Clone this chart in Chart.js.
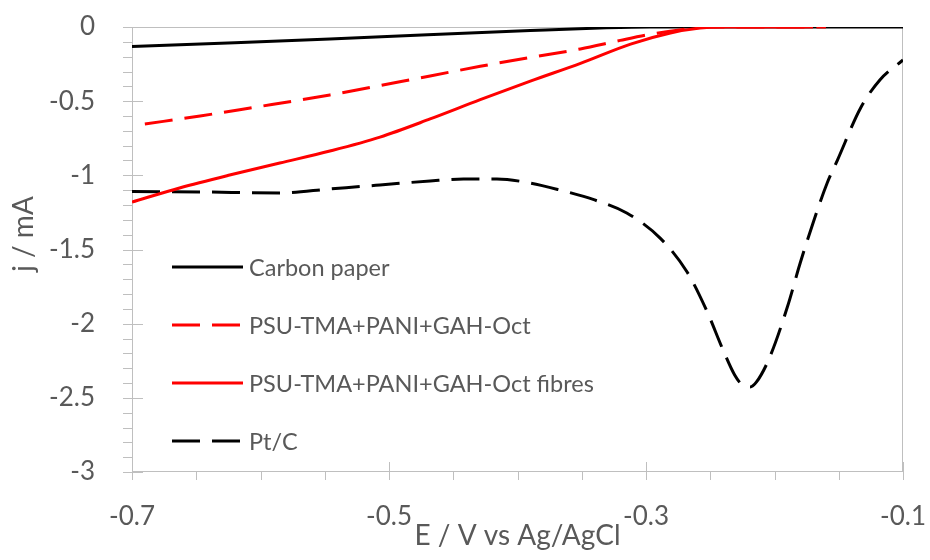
<!DOCTYPE html>
<html>
<head>
<meta charset="utf-8">
<script src="https://cdn.jsdelivr.net/npm/chart.js@4.4.0/dist/chart.umd.min.js"></script>
<style>
  html, body { margin: 0; padding: 0; background: #fff; }
  #wrap { width: 930px; height: 560px; }
</style>
</head>
<body>
<div id="wrap"><canvas id="myChart"></canvas></div>
<script>
// potential (V vs Ag/AgCl) and current density (mA) for each electrode
const carbonE = [-0.7, -0.62, -0.546, -0.47, -0.39, -0.336, -0.297, -0.1];
const carbonJ = [-0.131, -0.106, -0.081, -0.052, -0.024, -0.007, 0, 0];

const filmE = [-0.69, -0.647, -0.608, -0.546, -0.468, -0.429, -0.39, -0.351, -0.32, -0.297, -0.274, -0.25, -0.16];
const filmJ = [-0.654, -0.6, -0.546, -0.458, -0.33, -0.265, -0.205, -0.148, -0.09, -0.05, -0.02, 0, 0];

const fibreE = [-0.7, -0.663, -0.624, -0.585, -0.546, -0.507, -0.468, -0.429, -0.39, -0.351, -0.312, -0.281, -0.258, -0.242, -0.17];
const fibreJ = [-1.18, -1.085, -0.998, -0.917, -0.836, -0.742, -0.62, -0.49, -0.365, -0.245, -0.115, -0.04, -0.007, 0, 0];

const ptcE = [-0.7, -0.647, -0.585, -0.546, -0.507, -0.468, -0.442, -0.416, -0.39, -0.367, -0.34, -0.315, -0.289, -0.268, -0.253, -0.24, -0.231, -0.225, -0.219, -0.214, -0.204, -0.19, -0.18, -0.17, -0.159, -0.151, -0.133, -0.118, -0.1];
const ptcJ = [-1.109, -1.112, -1.119, -1.092, -1.065, -1.038, -1.025, -1.025, -1.052, -1.099, -1.166, -1.254, -1.423, -1.652, -1.908, -2.178, -2.346, -2.414, -2.427, -2.393, -2.232, -1.888, -1.591, -1.321, -1.052, -0.897, -0.546, -0.357, -0.222];

const xTicks = [-0.7, -0.5, -0.3, -0.1];
const yTicks = [0, -0.5, -1, -1.5, -2, -2.5, -3];

const seriesNames = ['Carbon paper', 'PSU-TMA+PANI+GAH-Oct', 'PSU-TMA+PANI+GAH-Oct fibres', 'Pt/C'];

const textGrey = '#595959';
const axisGrey = '#bfbfbf';
const fontFam = 'Lato, "Open Sans", sans-serif';
const dash = [28, 12];

function pts(xs, ys) {
  return xs.map((e, i) => ({ x: e, y: ys[i] }));
}

function series(label, xs, ys, color, dashed, order) {
  return {
    label: label,
    data: pts(xs, ys),
    showLine: true,
    borderColor: color,
    backgroundColor: color,
    borderWidth: 3,
    borderDash: dashed ? dash : [],
    pointRadius: 0,
    cubicInterpolationMode: 'monotone',
    order: order
  };
}

// frame, tick marks, axis titles and the in-plot legend
const decor = {
  id: 'decor',
  beforeDatasetsDraw(chart) {
    const { ctx, chartArea: a, scales: { x, y } } = chart;
    ctx.save();
    ctx.strokeStyle = axisGrey;
    ctx.lineWidth = 1;
    ctx.strokeRect(Math.round(a.left) + 0.5, Math.round(a.top) + 0.5,
      Math.round(a.width) - 1, Math.round(a.height) - 1);

    ctx.beginPath();
    for (let i = 0; i <= 12; i++) {
      const px = Math.round(x.getPixelForValue(-0.7 + i * 0.05)) + 0.5;
      const major = i % 4 === 0;
      ctx.moveTo(px, a.bottom + (major ? -10 : 0));
      ctx.lineTo(px, a.bottom + 8);
    }
    for (let i = 0; i <= 30; i++) {
      const py = Math.round(y.getPixelForValue(-i * 0.1)) + 0.5;
      const major = i % 5 === 0;
      ctx.moveTo(a.left - 9, py);
      ctx.lineTo(a.left + (major ? 11 : 0), py);
    }
    ctx.stroke();

    // axis titles
    ctx.fillStyle = textGrey;
    ctx.font = '28px ' + fontFam;
    ctx.textAlign = 'center';
    ctx.textBaseline = 'alphabetic';
    ctx.fillText('E / V vs Ag/AgCl', (a.left + a.right) / 2, 545);
    ctx.save();
    ctx.translate(33, 234);
    ctx.rotate(-Math.PI / 2);
    ctx.fillText('j / mA', 0, 0);
    ctx.restore();
    ctx.restore();
  },
  afterDatasetsDraw(chart) {
    const { ctx, chartArea: a } = chart;
    const rows = [267, 325, 383, 441];
    ctx.save();
    ctx.font = '23.5px ' + fontFam;
    ctx.textBaseline = 'middle';
    ctx.textAlign = 'left';
    seriesNames.forEach((name, i) => {
      const ds = chart.data.datasets.find(d => d.label === name);
      ctx.strokeStyle = ds.borderColor;
      ctx.lineWidth = 3;
      ctx.setLineDash(ds.borderDash);
      ctx.beginPath();
      ctx.moveTo(a.left + 40, rows[i]);
      ctx.lineTo(a.left + 111, rows[i]);
      ctx.stroke();
      ctx.setLineDash([]);
      ctx.fillStyle = textGrey;
      ctx.fillText(name, a.left + 117, rows[i] + 1);
    });
    ctx.restore();
  }
};

const ctx = document.getElementById('myChart');

new Chart(ctx, {
  type: 'scatter',
  data: {
    datasets: [
      series(seriesNames[0], carbonE, carbonJ, '#000000', false, 4),
      series(seriesNames[1], filmE, filmJ, '#ff0000', true, 2),
      series(seriesNames[2], fibreE, fibreJ, '#ff0000', false, 1),
      series(seriesNames[3], ptcE, ptcJ, '#000000', true, 3)
    ]
  },
  options: {
    responsive: true,
    maintainAspectRatio: false,
    animation: false,
    devicePixelRatio: 1,
    layout: { padding: { top: 27, right: 27, left: 0, bottom: 0 } },
    plugins: {
      legend: { display: false },
      tooltip: { enabled: false }
    },
    scales: {
      x: {
        type: 'linear',
        min: -0.7,
        max: -0.1,
        grid: { display: false },
        border: { display: false },
        afterBuildTicks: s => { s.ticks = xTicks.map(v => ({ value: v })); },
        afterFit: s => {
          s.height = 88;
          s.paddingLeft = 0;
          s.paddingRight = 0;
        },
        ticks: {
          color: textGrey,
          font: { family: fontFam, size: 26 },
          padding: 21,
          maxRotation: 0,
          callback: v => v.toFixed(1)
        }
      },
      y: {
        min: -3,
        max: 0,
        grid: { display: false },
        border: { display: false },
        afterBuildTicks: s => { s.ticks = yTicks.map(v => ({ value: v })); },
        afterFit: s => {
          s.width = 132;
          s.paddingTop = 0;
          s.paddingBottom = 0;
        },
        ticks: {
          color: textGrey,
          font: { family: fontFam, size: 26 },
          padding: 29,
          callback: v => String(v)
        }
      }
    }
  },
  plugins: [decor]
});
</script>
</body>
</html>
